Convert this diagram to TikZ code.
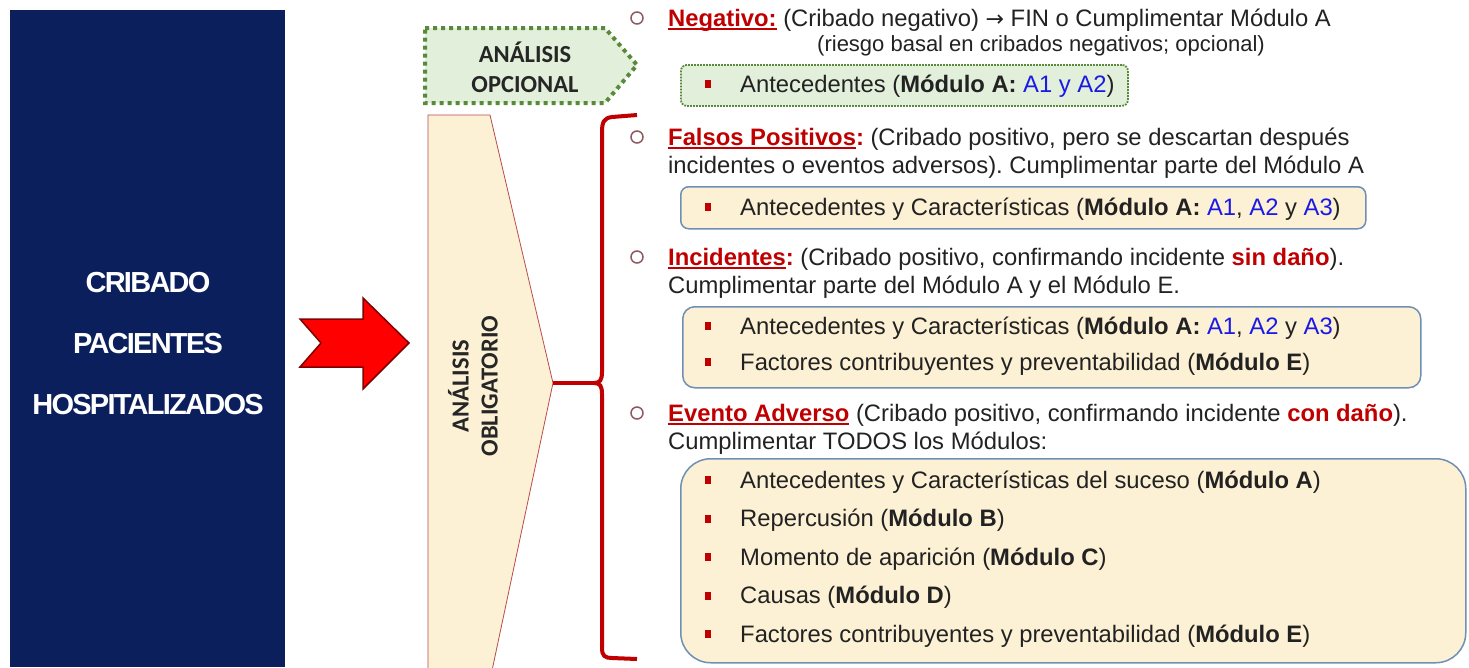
\documentclass[tikz,border=0pt]{standalone}
\usepackage{fontspec}
\setmainfont{Liberation Sans}
\newfontfamily\calfont{Carlito}
\newfontfamily\boxfont[LetterSpace=-6]{Liberation Sans}
\newfontfamily\arrowfont{DejaVu Sans}
\usetikzlibrary{positioning}
\frenchspacing

\definecolor{navy}{HTML}{0B1F5C}
\definecolor{darkred}{HTML}{C00000}
\definecolor{optgreen}{HTML}{70AD47}
\definecolor{optfill}{HTML}{E2EFDA}
\definecolor{peach}{HTML}{FDF1D5}
\definecolor{boxline}{HTML}{6F8FB5}
\definecolor{modblue}{HTML}{1A1AE6}
\definecolor{bodytext}{HTML}{222222}
\definecolor{ringcol}{HTML}{8E5A62}

% underline in red, thicker than \underline
\newcommand{\redul}[1]{\setbox0=\hbox{#1}\rlap{\color{darkred}\rule[-4pt]{\wd0}{2.4pt}}\box0}
\newcommand{\blu}[1]{\textcolor{modblue}{#1}}
\newcommand{\keyw}[1]{\textcolor{darkred}{\textbf{#1}}}

\begin{document}
\begin{tikzpicture}[x=1pt,y=-1pt,
    every node/.style={inner sep=0pt, text=bodytext, font=\fontsize{23.8}{28}\selectfont},
    hdr/.style={anchor=north west, align=left},
    item/.style={anchor=base west},
    ring/.style={circle, draw=ringcol, line width=1.5pt, minimum size=12pt},
    sq/.style={fill=darkred, minimum width=6pt, minimum height=8pt},
    optbox/.style={anchor=north west, draw=optgreen!80!black, fill=optfill, line width=1.8pt,
        dash pattern=on 1.8pt off 1.2pt, rounded corners=6pt},
    modbox/.style={anchor=north west, draw=boxline, fill=peach, line width=1.5pt},
    brace/.style={draw=darkred, line width=4pt},
    label/.style={font=\calfont\bfseries\fontsize{24.5}{30}\selectfont, align=center, text=black!85},
]
    \fill[white] (0,0) rectangle (1469,667);
    \useasboundingbox (0,0) rectangle (1469,667);

    % left block
    \node[fill=navy, minimum width=275pt, minimum height=657pt, anchor=north west] (cribado) at (10,10) {};
    \node[font=\boxfont\bfseries\fontsize{29}{61}\selectfont, align=center, text=white] (cribtxt) at (148,344)
        {CRIBADO\\PACIENTES\\HOSPITALIZADOS};

    % big red arrow
    \draw[fill=red, draw=red!50!black, line width=1.5pt]
        (300,319) -- (363,319) -- (363,298) -- (409,343) -- (363,389) -- (363,367) -- (300,367) -- (321,343) -- cycle;

    % optional analysis
    \path[optbox, rounded corners=0pt, line width=4pt, dash pattern=on 4pt off 4pt]
        (425,28) -- (605,28) -- (637,65) -- (605,103) -- (425,103) -- cycle;
    \node[label] (opcional) at (525,67) {ANÁLISIS\\OPCIONAL};

    % mandatory analysis
    \draw[fill=peach, draw=red!60!black!70, line width=0.8pt]
        (428,680) -- (428,115) -- (490,115) -- (553,383) -- (490,680);
    \node[label, rotate=90, font=\calfont\bfseries\fontsize{24.5}{29}\selectfont] (obligatorio) at (473,386) {ANÁLISIS\\OBLIGATORIO};
    \coordinate (obltip) at (553,383);
    \coordinate (bracetip) at (594,383);

    % brace
    \path[brace] (637,115) -- (612,117) .. controls (604,118) and (602,122) .. (602,132) -- (602,372)
        .. controls (602,380) and (600,383) .. (bracetip)
        .. controls (600,383) and (602,386) .. (602,394) -- (602,648)
        .. controls (602,656) and (605,658) .. (612,658) -- (637,659);
    \draw[brace] (obltip) -- (bracetip);

    % negativo
    \node[ring] (r1) at (637,18) {};
    \node[item] (neg) at (668,26) {\keyw{\redul{Negativo:}} (Cribado negativo) {\arrowfont\fontsize{22}{28}\selectfont →} FIN o Cumplimentar Módulo A};
    \node[anchor=base, font=\fontsize{22}{26}\selectfont] (negsub) at (1041,51) {(riesgo basal en cribados negativos; opcional)};
    \node[optbox, minimum width=447pt, minimum height=41pt] (negbox) at (680,64) {};
    \node[sq] (s1) at (708,84) {};
    \node[item] (negA) at (740,92) {Antecedentes (\textbf{Módulo A:} \blu{A1 y A2})};

    % falsos positivos
    \node[ring] (r2) at (637,137) {};
    \node[hdr] (fp) at (668,125.4) {\strut\keyw{\redul{Falsos Positivos}:} (Cribado positivo, pero se descartan después\\
        incidentes o eventos adversos). Cumplimentar parte del Módulo A};
    \node[modbox, rounded corners=8pt, minimum width=685pt, minimum height=42pt] (fpbox) at (680,186) {};
    \node[sq] (s2) at (708,207) {};
    \node[item] (fpA) at (740,215) {Antecedentes y Características (\textbf{Módulo A:} \blu{A1}, \blu{A2} y \blu{A3})};

    % incidentes
    \node[ring] (r3) at (637,257) {};
    \node[hdr] (inc) at (668,245.4) {\strut\keyw{\redul{Incidentes}:} (Cribado positivo, confirmando incidente \keyw{sin daño}).\\
        Cumplimentar parte del Módulo A y el Módulo E.};
    \node[modbox, rounded corners=12pt, minimum width=738pt, minimum height=81pt] (incbox) at (682,306) {};
    \node[sq] (s3) at (708,326) {};
    \node[item] (incA) at (740,334) {Antecedentes y Características (\textbf{Módulo A:} \blu{A1}, \blu{A2} y \blu{A3})};
    \node[sq] (s4) at (708,362) {};
    \node[item] (incE) at (740,370) {Factores contribuyentes y preventabilidad (\textbf{Módulo E})};

    % evento adverso
    \node[ring] (r4) at (637,413) {};
    \node[hdr] (ev) at (668,401.4) {\strut\keyw{\redul{Evento Adverso}} (Cribado positivo, confirmando incidente \keyw{con daño}).\\
        Cumplimentar TODOS los Módulos:};
    \node[modbox, rounded corners=30pt, minimum width=785pt, minimum height=204pt] (evbox) at (680,458) {};
    \foreach \txt [count=\i] in {
        {Antecedentes y Características del suceso (\textbf{Módulo A})},
        {Repercusión (\textbf{Módulo B})},
        {Momento de aparición (\textbf{Módulo C})},
        {Causas (\textbf{Módulo D})},
        {Factores contribuyentes y preventabilidad (\textbf{Módulo E})}} {
        \node[sq] (evsq\i) at (708,{480+38.5*(\i-1)}) {};
        \node[item] (ev\i) at (740,{488+38.5*(\i-1)}) {\txt};
    }
\end{tikzpicture}
\end{document}
